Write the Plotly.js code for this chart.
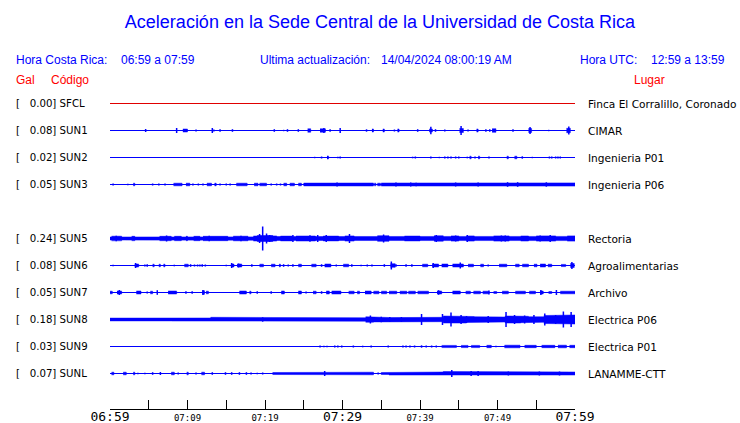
<!DOCTYPE html>
<html><head><meta charset="utf-8">
<script src="https://cdn.plot.ly/plotly-3.0.1.min.js"></script>
<style>html,body{margin:0;padding:0;background:#fff}#chart{width:740px;height:423px}</style>
</head><body><div id="chart"></div>
<script>
// ---------------- DATA ----------------
const stationCodes = ['SFCL','SUN1','SUN2','SUN3','SUN4','SUN5','SUN6','SUN7','SUN8','SUN9','SUNL'];
const peakGal      = ['0.00','0.08','0.02','0.05', null ,'0.24','0.08','0.05','0.18','0.03','0.07'];
const places       = ['Finca El Corralillo, Coronado','CIMAR','Ingenieria P01','Ingenieria P06', null,
                      'Rectoria','Agroalimentarias','Archivo','Electrica P06','Electrica P01','LANAMME-CTT'];
const tickMinutes  = [0,5,10,15,20,25,30,35,40,45,50,55,60];
const tickLabels   = ['06:59','','07:09','','07:19','','07:29','','07:39','','07:49','','07:59'];
const majorLabels  = ['06:59','07:29','07:59'];

// sustained envelope, one value per minute (half amplitude, display units)
const env_SUN3 = [0,0,0,0,0, 0,0,0,0,0, 0,0,0,0,0, 0,0,0,0,0, 0,0,0,0,0,
  1.4,1.4,1.4,1.4,1.4, 1.5,1.5,1.5,1.5,0, 1.5,1.5,1.5,1.5,1.5, 1.5,1.5,1.5,1.5,1.5,
  1.5,1.5,1.5,1.5,1.5, 1.6,2.0,2.0,1.8,1.5, 1.5,1.8,1.5,1.6,1.6];
const env_SUN5 = [1.5,1.5,1.3,1.5,1.3, 1.3,1.5,1.5,1.5,1.5, 1.4,1.5,1.5,1.5,1.5, 1.4,1.5,1.5,1.7,3.0,
  3.0,2.0,2.0,2.0,2.0, 2.0,2.0,2.0,2.0,2.0, 2.1,2.0,2.0,1.9,1.9, 2.2,2.0,2.0,2.0,2.0,
  2.0,2.0,2.1,2.0,2.1, 2.0,2.1,2.0,2.0,2.0, 2.1,2.1,2.0,2.0,2.0, 2.1,2.1,2.0,2.0,2.1];
const env_SUN8 = [1.4,1.2,1.4,1.2,1.4, 1.4,1.2,1.4,1.5,1.5, 1.5,1.5,1.5,2.2,2.2, 1.5,1.5,1.5,1.5,1.5,
  1.5,1.5,1.5,1.5,1.5, 1.5,1.8,2.0,1.7,1.8, 1.7,1.9,1.7,2.7,2.4, 2.0,1.9,2.0,2.0,2.1,
  2.5,2.2,2.2,3.5,3.7, 3.5,3.0,2.7,2.8,2.7, 2.5,3.5,3.5,3.2,2.7, 2.7,4.0,3.8,4.4,4.5];
const env_SUNL = [0,0,0,0,0, 0,0,0,0,0, 0,0,0,0,0, 0,0,0,0,0, 0,1.0,1.1,1.0,1.1,
  0.8,1.4,1.4,1.4,1.4, 1.4,1.4,1.4,1.3,0, 1.0,1.5,1.5,1.5,1.5, 1.5,1.5,1.5,2.0,2.0,
  1.5,1.5,1.5,1.5,1.5, 1.5,1.5,1.5,1.5,1.5, 1.5,1.5,1.5,1.5,1.5];

// bursts: [start minute, end minute, half amplitude]
const blk_SUN1 = [[9.4,10.0,1.5],[25.5,25.9,1.7],[27.1,27.8,1.7],[33.8,34.0,1.5],[35.2,35.4,1.5],[37.1,37.3,1.5],
  [41.2,41.6,1.5],[45.1,45.6,2],[47.3,47.5,1.5],[49.3,49.8,1.8],[54.0,54.4,2],[58.9,59.4,2.2]];
const blk_SUN2 = [[28.0,28.2,1.5],[46.4,46.6,1.3],[47.5,47.7,1.3],[51.2,51.4,1.3],[52.2,52.5,1.3]];
const blk_SUN3 = [[3.0,3.2,1.3],[8.2,9.3,1.3],[9.8,10.3,1.3],[12.5,13.1,1.3],[13.5,13.7,1.3],[16.3,17.7,1.3],
  [18.6,19.1,1.3],[19.3,20.2,1.3],[22.4,22.8,1.3],[23.2,23.8,1.3],[24.3,24.7,1.3],[34.1,34.3,1.3],[34.5,34.9,1.3]];
const blk_SUN5 = [[0.2,1.5,2.3],[2.8,3.2,2.2],[6.4,7.9,2.2],[8.3,9.2,2.2],[9.8,10.0,2.2],[10.8,11.6,2.2],[12.0,15.2,2.2],
  [15.9,17.8,2.3],[18.5,19.5,2.5],[20.2,21.5,2.6],[22,23.5,2.4],[24,26.5,2.5],[27.5,29.5,2.4],[30.3,31.5,2.6],
  [34.5,36,2.8],[38,40,2.4],[41.8,43,2.7],[44,45,2.6],[46,47,2.6],[49.5,51.5,2.6],[53,54,2.5],[55,57.5,2.6],[59,60,2.6]];
const blk_SUN6 = [[3.2,3.7,1.5],[5.5,5.7,1.3],[6.3,6.5,1.3],[6.9,7.1,1.3],[9.6,10.1,1.3],[15.6,16.0,1.5],[16.4,17.0,1.5],
  [19.3,19.8,1.3],[20.8,21.3,1.3],[21.8,22.0,1.3],[24.3,24.7,1.3],[26.0,26.6,1.3],[27.7,28.5,1.5],[30.1,30.8,1.3],
  [36.2,36.8,1.8],[40.3,41.0,1.3],[41.6,42.4,1.5],[42.8,43.6,1.5],[44.2,45.6,1.5],[46.2,46.9,1.3],[47.8,48.2,1.3],
  [50.2,51.2,1.3],[52.3,52.8,1.3],[53.2,54.0,1.3],[54.7,55.1,1.3],[55.5,56.2,1.5],[56.5,57.0,1.3],[58.2,58.8,1.1],[59.4,59.9,2]];
const blk_SUN7 = [[0,0.3,1.3],[0.9,1.5,1.5],[3.4,4.0,1.5],[5.2,5.5,1.3],[7.5,8.6,1.5],[11.9,12.2,1.8],[12.4,12.7,1.3],
  [16.7,17.6,1.5],[18.0,18.2,1.3],[22.1,22.5,1.5],[24.3,24.7,1.5],[26.2,26.6,1.3],[27.9,28.3,1.5],[28.6,29.8,1.5],
  [30.8,31.5,1.3],[31.9,32.2,1.3],[32.9,33.7,1.5],[34.0,34.7,1.3],[35.0,35.7,1.3],[36.0,37.0,1.3],[37.4,38.3,1.3],
  [38.5,39.4,1.3],[39.7,41.1,1.3],[42.2,42.8,1.5],[44.2,45.2,1.5],[45.9,46.5,1.3],[46.9,47.8,1.3],[48.1,48.9,1.3],
  [49.5,49.9,1.0],[50.6,51.4,1.3],[52.3,53.6,1.3],[54.1,54.9,1.3],[55.5,55.9,1.5],[56.6,57.0,1.0],[58.1,60,1.3]];
const blk_SUN9 = [[42.8,44.7,1.1],[45.3,46.2,1.1],[46.6,47.7,1.1],[48.6,49.2,1.2],[50.9,52.9,1.3],[53.5,55.0,1.2],
  [55.7,57.4,1.2],[57.8,58.9,1.3],[59.3,60,1.2]];
const blk_SUNL = [[0.2,0.5,1.3],[1.7,2.1,1.3],[3.0,3.2,1.3],[7.9,8.3,1.3],[9.9,10.1,1.3],[11.8,12.2,1.3]];

// narrow peaks: [minute, half amplitude]
const spk_SUN1 = [[3.1,0.6],[4.6,1.5],[8.6,2.5],[11.1,1],[13.2,2.5],[13.4,1],[14.2,1.3],[15.8,1.3],[21.2,1.3],[22.4,0.7],
  [22.9,1.3],[24.3,1.3],[27.6,2.5],[28.4,1.3],[29.7,2.5],[33.1,1.2],[36.7,1],[39.7,1.3],[41.4,3.8],[42.0,1.3],[43.2,1],
  [45.3,4.5],[46.2,1],[48.5,1.2],[49.0,1.2],[52.0,1.2],[54.2,3.5],[56.6,0.7],[59.2,4]];
const spk_SUN2 = [[26.4,0.7],[27.3,1],[29.4,0.7],[29.7,1],[39.05,0.8],[39.4,1],[41.4,1],[42.5,0.7],[43.2,1],[43.6,1],
  [44.0,1],[44.6,1],[45.0,1],[46.1,0.8],[47.1,1],[48.9,1],[53.2,1.2],[54.5,0.7],[56.7,1],[57.0,1],[57.5,1],[57.8,1],[58.1,1]];
const spk_SUN3 = [[0.4,1],[2.3,0.7],[5.5,1],[6.3,1],[7.1,1],[10.7,1],[11.4,1],[12.0,1],[13.6,1],[14.2,1],[15.0,1],[15.5,1],
  [20.8,1],[21.5,1],[22.0,1],[29.3,2],[36.9,2],[38.8,2],[39.5,1.8],[44.6,2],[47.5,2],[51.3,2.3],[52.6,2.3],[56.3,2.2]];
const spk_SUN5 = [[0.8,2.8],[7.3,3],[12.8,2.8],[16.9,2.8],[19.3,4.5],[19.7,12],[20.2,5],[20.6,3.5],[23.6,3.5],[25.8,3.2],
  [26.8,3.5],[27.9,3.5],[30.9,4.5],[35.3,4],[42.1,3.5],[44.6,3],[46.1,3.5],[50.5,3],[51,3],[55.5,3],[56.8,3.5]];
const spk_SUN6 = [[0.4,0.8],[3.3,2.5],[4.5,1],[4.8,1.3],[8.3,0.8],[10.4,1.3],[10.9,1],[11.3,1],[11.6,1],[11.9,1.3],[12.3,1],
  [15.0,0.7],[15.7,2.5],[16.6,2],[18.3,1.3],[22.4,1.3],[23.0,1],[23.6,1.3],[27.3,1.3],[29.2,1],[31.2,1.3],[32.4,0.8],
  [33.2,1],[33.8,1],[35.4,1.3],[36.3,4],[36.9,1.3],[38.2,1.3],[38.95,1.3],[41.7,2.5],[45.2,3],[48.8,1],[59.6,3.5]];
const spk_SUN7 = [[1.2,2.5],[4.8,1],[6.1,2.3],[9.8,1.3],[10.6,1.3],[12.0,2.5],[19.0,1.3],[20.8,1.3],[25.3,1],[27.3,1.3],
  [42.4,2.3],[48.9,2],[55.6,2.5],[57.6,2.5]];
const spk_SUN8 = [[19.7,2.2],[33.6,4],[35.0,2.8],[36.1,2.5],[37.6,2.5],[40.2,5.5],[42.9,5.5],[44.0,7],[45.3,4.5],[46.0,3.5],
  [48.8,3.5],[51.1,7.5],[52.2,4.5],[53.5,4],[54.7,4.5],[56.1,6],[57.5,4.5],[58.5,8],[59.5,7.5]];
const spk_SUN9 = [[27.1,1],[27.6,0.7],[28.0,0.7],[29.0,1],[29.4,1],[29.9,1],[31.4,1],[32.6,0.8],[33.7,1],[35.9,1],[37.8,1],
  [38.2,1],[38.7,1],[39.3,1],[40.2,1.2],[40.8,1],[41.5,1],[42.1,1],[49.8,0.8]];
const spk_SUNL = [[3.6,0.7],[4.5,0.7],[5.5,1.3],[6.5,1.5],[8.8,1],[11.1,1],[13.2,1.3],[14.9,1.3],[15.7,1.3],[16.7,1.3],
  [17.6,1.3],[18.2,1],[19.0,0.7],[19.7,1],[27.7,2.5],[34.6,1],[44.1,3.5],[46.6,2.5],[47.5,2.5],[51.4,2],[55.4,2],[58,2]];

// ---------------- BUILD ----------------
const ENV = {SUN3:env_SUN3, SUN5:env_SUN5, SUN8:env_SUN8, SUNL:env_SUNL};
const BLK = {SUN1:blk_SUN1, SUN2:blk_SUN2, SUN3:blk_SUN3, SUN5:blk_SUN5, SUN6:blk_SUN6, SUN7:blk_SUN7, SUN9:blk_SUN9, SUNL:blk_SUNL};
const SPK = {SUN1:spk_SUN1, SUN2:spk_SUN2, SUN3:spk_SUN3, SUN5:spk_SUN5, SUN6:spk_SUN6, SUN7:spk_SUN7, SUN8:spk_SUN8, SUN9:spk_SUN9, SUNL:spk_SUNL};

const W = 740, H = 423, M = {l:110, r:165, t:90, b:14};
const plotW = W - M.l - M.r, plotH = H - M.t - M.b;
const ROW_PX = 27;
const yMax = 13.5 / ROW_PX, yMin = yMax - plotH / ROW_PX;
const tMax = tickMinutes[tickMinutes.length - 1];
const BLUE = '#0000ff', RED = '#e00000';
const px2x = p => (p - M.l) / plotW;
const py2y = p => (H - M.b - p) / plotH;

const traces = [];
const annotations = [];
stationCodes.forEach((code, i) => {
  if (peakGal[i] === null) return;
  const r = -i;
  const color = code === 'SFCL' ? RED : BLUE;
  traces.push({x:[0, tMax], y:[r, r], mode:'lines', line:{color, width:1}, hoverinfo:'skip'});
  const px = [], py = [];
  const env = ENV[code];
  if (env) {
    env.forEach((a, k) => { px.push(k, k + 1); py.push(r + a / ROW_PX, r + a / ROW_PX); });
    for (let k = env.length - 1; k >= 0; k--) { const a = env[k]; px.push(k + 1, k); py.push(r - a / ROW_PX, r - a / ROW_PX); }
    px.push(null); py.push(null);
  }
  (BLK[code] || []).forEach(([t0, t1, a]) => {
    const d = a / ROW_PX;
    px.push(t0, t1, t1, t0, null); py.push(r + d, r + d, r - d, r - d, null);
  });
  if (px.length) traces.push({x:px, y:py, mode:'lines', fill:'toself', fillcolor:color, line:{color, width:0.5}, hoverinfo:'skip'});
  const sx = [], sy = [];
  (SPK[code] || []).forEach(([t, a]) => { const d = a / ROW_PX; sx.push(t, t, null); sy.push(r - d, r + d, null); });
  if (sx.length) traces.push({x:sx, y:sy, mode:'lines', line:{color, width:1.5}, hoverinfo:'skip'});

  annotations.push({xref:'paper', yref:'y', x:px2x(14), y:r, xanchor:'left', yanchor:'middle', showarrow:false,
    text:'[\u00a0\u00a0\u00a0' + peakGal[i] + '] ' + code, font:{family:'DejaVu Sans', size:10.2, color:'#000'}});
  annotations.push({xref:'paper', yref:'y', x:px2x(586), y:r, xanchor:'left', yanchor:'middle', showarrow:false,
    text:places[i], font:{family:'DejaVu Sans', size:10.6, color:'#000'}});
});

const hdrFont = c => ({family:'Liberation Sans, Arial, sans-serif', size:12, color:c});
[['Hora Costa Rica:', 14, 60, BLUE], ['06:59 a 07:59', 119, 60, BLUE],
 ['Ultima actualización:', 258, 60, BLUE], ['14/04/2024 08:00:19 AM', 379, 60, BLUE],
 ['Hora UTC:', 578, 60, BLUE], ['12:59 a 13:59', 649, 60, BLUE],
 ['Gal', 14, 80, RED], ['Código', 49, 80, RED], ['Lugar', 632, 80, RED]
].forEach(([text, x, y, c]) => annotations.push({xref:'paper', yref:'paper', x:px2x(x), y:py2y(y),
  xanchor:'left', yanchor:'middle', showarrow:false, text, font:hdrFont(c === RED ? '#ff0000' : c)}));

const tickText = tickLabels.map(t => majorLabels.includes(t) ? '<span style="font-size:13px">' + t + '</span>' : t);

const layout = {
  width:W, height:H, margin:M, paper_bgcolor:'#fff', plot_bgcolor:'#fff', showlegend:false,
  title:{text:'Aceleración en la Sede Central de la Universidad de Costa Rica', xref:'container', yref:'container',
    x:380/W, xanchor:'center', y:1 - 22/H, yanchor:'middle', font:{family:'Liberation Sans, Arial, sans-serif', size:18, color:BLUE}},
  xaxis:{range:[0, tMax], showgrid:false, zeroline:false, showline:true, linecolor:'#000', linewidth:1,
    ticks:'inside', ticklen:9, tickcolor:'#000', tickwidth:1, tickmode:'array', tickvals:tickMinutes, ticktext:tickText,
    tickfont:{family:'DejaVu Sans Mono', size:9, color:'#000'}, fixedrange:true},
  yaxis:{range:[yMin, yMax], visible:false, fixedrange:true},
  annotations
};
Plotly.newPlot('chart', traces, layout, {staticPlot:true});
</script></body></html>
